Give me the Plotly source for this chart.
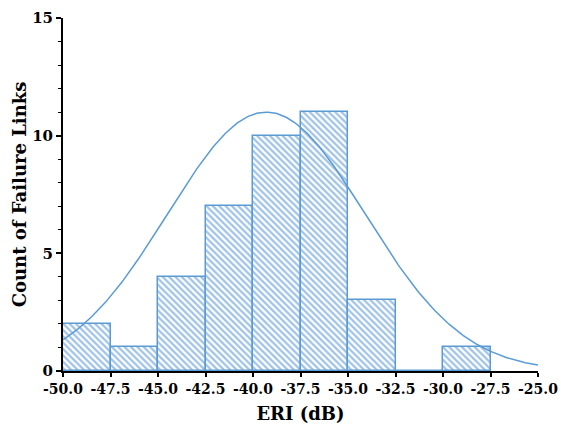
import numpy as np
import plotly.graph_objects as go

bin_left = [-50.0, -47.5, -45.0, -42.5, -40.0, -37.5, -35.0, -32.5, -30.0]
counts = [2, 1, 4, 7, 10, 11, 3, 0, 1]
bin_width = 2.5

fit_mean = -39.3
fit_sigma = 5.2
fit_peak = 11.0

x_ticks = [-50.0, -47.5, -45.0, -42.5, -40.0, -37.5, -35.0, -32.5, -30.0, -27.5, -25.0]
y_ticks = [0, 5, 10, 15]

blue = "#5b9bd5"
font_family = "DejaVu Serif"

centers = [b + bin_width / 2 for b in bin_left]
xc = np.linspace(-50, -25, 300)
yc = fit_peak * np.exp(-((xc - fit_mean) ** 2) / (2 * fit_sigma ** 2))

fig = go.Figure()
fig.add_trace(go.Bar(
    x=centers, y=counts, width=bin_width,
    marker=dict(color="white", line=dict(color=blue, width=1.5),
                pattern=dict(shape="\\", fgcolor="#3f86cc", bgcolor="white", size=4.5, solidity=0.5)),
    showlegend=False,
))
fig.add_trace(go.Scatter(x=xc, y=yc, mode="lines", line=dict(color=blue, width=1.5), showlegend=False))

fig.update_layout(
    width=561, height=427,
    margin=dict(l=63, r=23, t=18, b=56),
    paper_bgcolor="white", plot_bgcolor="white",
    font=dict(family=font_family, color="black"),
    bargap=0,
)
fig.update_xaxes(
    range=[-50, -25], tickvals=x_ticks, ticktext=[f"<b>{v:.1f}</b>" for v in x_ticks],
    showgrid=False, zeroline=False, showline=True, linecolor="black", linewidth=2,
    ticks="outside", ticklen=4, tickwidth=1.5, tickcolor="black",
    tickfont=dict(size=14, family=font_family),
    title=dict(text="<b>ERI (dB)</b>", font=dict(size=18), standoff=12),
    automargin=False,
)
fig.update_yaxes(
    range=[0, 15], tickvals=y_ticks, ticktext=[f"<b>{v}</b>" for v in y_ticks],
    showgrid=False, zeroline=False, showline=True, linecolor="black", linewidth=2,
    ticks="outside", ticklen=5, tickwidth=1.5, tickcolor="black",
    minor=dict(dtick=1, ticks="outside", ticklen=3, tickcolor="black", tickwidth=1),
    tickfont=dict(size=15, family=font_family),
    title=dict(text="<b>Count of Failure Links</b>", font=dict(size=18), standoff=1),
    automargin=False,
)
fig.write_html("out.html", config={"displayModeBar": False},
               post_script="document.body.style.margin='0';document.body.style.overflow='hidden';")
